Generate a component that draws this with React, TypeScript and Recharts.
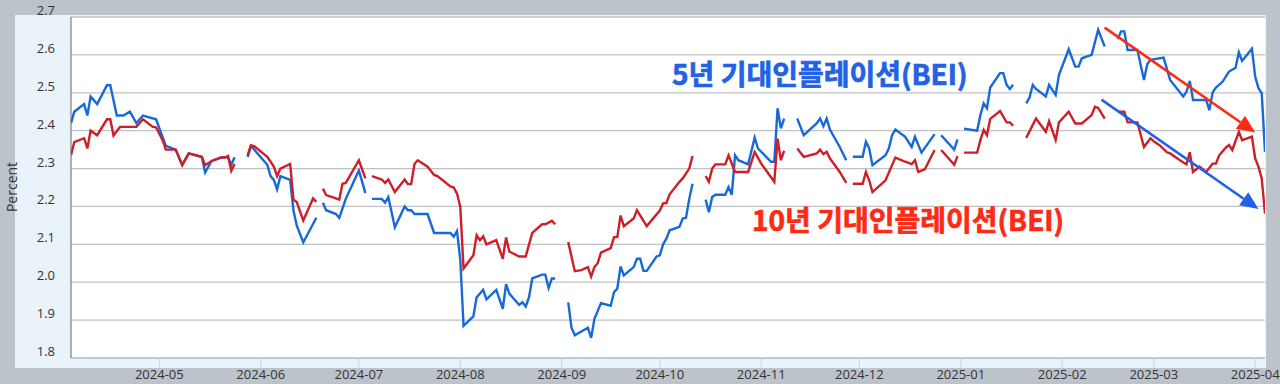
import { LineChart, Line, XAxis, YAxis, CartesianGrid, ReferenceLine } from 'recharts';

// 5-year breakeven inflation (T5YIE); null = market holiday gap
const fiveYearDates = [
  '2024-04-04', '2024-04-05', '2024-04-08', '2024-04-09', '2024-04-10', '2024-04-12', '2024-04-15', '2024-04-16',
  '2024-04-18', '2024-04-20', '2024-04-22', '2024-04-24', '2024-04-26', '2024-04-30', '2024-05-03', '2024-05-06',
  '2024-05-08', '2024-05-10', '2024-05-14', '2024-05-15', '2024-05-17', '2024-05-20', '2024-05-21', '2024-05-22',
  '2024-05-23', '2024-05-24', '2024-05-27', '2024-05-28', '2024-05-29', '2024-06-03', '2024-06-04', '2024-06-05',
  '2024-06-06', '2024-06-07', '2024-06-10', '2024-06-11', '2024-06-12', '2024-06-14', '2024-06-18', '2024-06-19',
  '2024-06-20', '2024-06-21', '2024-06-24', '2024-06-25', '2024-06-27', '2024-07-01', '2024-07-03', '2024-07-04',
  '2024-07-05', '2024-07-08', '2024-07-09', '2024-07-10', '2024-07-12', '2024-07-15', '2024-07-16', '2024-07-17',
  '2024-07-18', '2024-07-22', '2024-07-24', '2024-07-29', '2024-07-30', '2024-07-31', '2024-08-01', '2024-08-02',
  '2024-08-05', '2024-08-06', '2024-08-08', '2024-08-09', '2024-08-12', '2024-08-14', '2024-08-15', '2024-08-16',
  '2024-08-19', '2024-08-20', '2024-08-21', '2024-08-22', '2024-08-23', '2024-08-26', '2024-08-27', '2024-08-28',
  '2024-08-29', '2024-08-30', '2024-09-02', '2024-09-03', '2024-09-04', '2024-09-05', '2024-09-09', '2024-09-10',
  '2024-09-11', '2024-09-13', '2024-09-16', '2024-09-17', '2024-09-18', '2024-09-19', '2024-09-20', '2024-09-23',
  '2024-09-24', '2024-09-25', '2024-09-26', '2024-09-27', '2024-09-30', '2024-10-01', '2024-10-02', '2024-10-03',
  '2024-10-04', '2024-10-07', '2024-10-08', '2024-10-09', '2024-10-10', '2024-10-11', '2024-10-14', '2024-10-15',
  '2024-10-16', '2024-10-17', '2024-10-18', '2024-10-21', '2024-10-22', '2024-10-23', '2024-10-24', '2024-10-25',
  '2024-10-28', '2024-10-30', '2024-10-31', '2024-11-04', '2024-11-05', '2024-11-06', '2024-11-07', '2024-11-08',
  '2024-11-11', '2024-11-12', '2024-11-13', '2024-11-14', '2024-11-18', '2024-11-19', '2024-11-20', '2024-11-21',
  '2024-11-22', '2024-11-25', '2024-11-27', '2024-11-28', '2024-11-29', '2024-12-02', '2024-12-03', '2024-12-04',
  '2024-12-05', '2024-12-09', '2024-12-10', '2024-12-11', '2024-12-12', '2024-12-15', '2024-12-17', '2024-12-18',
  '2024-12-20', '2024-12-24', '2024-12-25', '2024-12-26', '2024-12-30', '2024-12-31', '2025-01-01', '2025-01-02',
  '2025-01-06', '2025-01-07', '2025-01-08', '2025-01-09', '2025-01-10', '2025-01-13', '2025-01-14', '2025-01-15',
  '2025-01-16', '2025-01-17', '2025-01-20', '2025-01-21', '2025-01-22', '2025-01-23', '2025-01-24', '2025-01-27',
  '2025-01-28', '2025-01-30', '2025-01-31', '2025-02-03', '2025-02-05', '2025-02-06', '2025-02-07', '2025-02-10',
  '2025-02-12', '2025-02-14', '2025-02-17', '2025-02-18', '2025-02-19', '2025-02-20', '2025-02-21', '2025-02-24',
  '2025-02-26', '2025-02-27', '2025-02-28', '2025-03-04', '2025-03-06', '2025-03-10', '2025-03-11', '2025-03-12',
  '2025-03-13', '2025-03-17', '2025-03-18', '2025-03-19', '2025-03-20', '2025-03-22', '2025-03-24', '2025-03-26',
  '2025-03-27', '2025-03-28', '2025-03-31', '2025-04-01', '2025-04-02', '2025-04-03', '2025-04-04',
];
const fiveYearValues = [
  2.42, 2.45, 2.47, 2.44, 2.49, 2.47, 2.52, 2.52,
  2.44, 2.44, 2.45, 2.42, 2.44, 2.43, 2.36, 2.35,
  2.31, 2.34, 2.33, 2.29, 2.32, 2.33, 2.33, 2.33,
  2.31, 2.33, null, 2.33, 2.36, 2.31, 2.28, 2.27,
  2.245, 2.28, 2.27, 2.19, 2.15, 2.105, 2.17, null,
  2.21, 2.19, 2.18, 2.17, 2.22, 2.295, 2.235, null,
  2.22, 2.22, 2.21, 2.225, 2.145, 2.2, 2.19, 2.19,
  2.18, 2.18, 2.13, 2.13, 2.12, 2.135, 2.06, 1.885,
  1.91, 1.96, 1.98, 1.955, 1.98, 1.93, 1.995, 1.97,
  1.94, 1.947, 1.936, 1.96, 2.01, 2.02, 2.02, 1.985,
  2.01, 2.01, null, 1.947, 1.88, 1.86, 1.88, 1.853,
  1.903, 1.945, 1.938, 1.974, 1.983, 2.042, 2.018, 2.04,
  2.062, 2.062, 2.03, 2.03, 2.068, 2.071, 2.1, 2.115,
  2.137, 2.146, 2.168, 2.17, 2.22, 2.26, null, 2.218,
  2.185, 2.225, 2.231, 2.231, 2.251, 2.231, 2.335, 2.322,
  2.311, 2.382, 2.353, 2.318, 2.318, 2.459, 2.406, 2.432,
  null, 2.432, 2.41, 2.388, 2.42, 2.432, 2.412, 2.432,
  2.403, 2.357, 2.322, null, 2.331, 2.331, 2.371, 2.353,
  2.309, 2.335, 2.353, 2.388, 2.403, 2.384, 2.357, 2.384,
  2.342, 2.391, null, 2.388, 2.35, 2.377, null, 2.405,
  2.4, 2.441, 2.472, 2.459, 2.514, 2.552, 2.552, 2.521,
  2.51, 2.521, null, 2.472, 2.487, 2.521, 2.51, 2.49,
  2.521, 2.494, 2.547, 2.615, 2.569, 2.569, 2.591, 2.6,
  2.666, 2.622, null, 2.642, 2.662, 2.662, 2.613, 2.613,
  2.534, 2.575, 2.587, 2.593, 2.534, 2.49, 2.503, 2.531,
  2.481, 2.481, 2.454, 2.501, 2.514, 2.529, 2.556, 2.566,
  2.607, 2.584, 2.616, 2.543, 2.512, 2.499, 2.344,
];

// 10-year breakeven inflation (T10YIE)
const tenYearDates = [
  '2024-04-04', '2024-04-05', '2024-04-08', '2024-04-09', '2024-04-10', '2024-04-12', '2024-04-15', '2024-04-16',
  '2024-04-17', '2024-04-19', '2024-04-24', '2024-04-26', '2024-04-29', '2024-04-30', '2024-05-02', '2024-05-03',
  '2024-05-06', '2024-05-08', '2024-05-10', '2024-05-14', '2024-05-15', '2024-05-17', '2024-05-20', '2024-05-21',
  '2024-05-22', '2024-05-23', '2024-05-24', '2024-05-27', '2024-05-28', '2024-05-29', '2024-05-30', '2024-06-03',
  '2024-06-05', '2024-06-06', '2024-06-07', '2024-06-10', '2024-06-11', '2024-06-12', '2024-06-14', '2024-06-17',
  '2024-06-18', '2024-06-19', '2024-06-20', '2024-06-21', '2024-06-24', '2024-06-25', '2024-06-26', '2024-06-27',
  '2024-07-01', '2024-07-03', '2024-07-04', '2024-07-05', '2024-07-08', '2024-07-09', '2024-07-10', '2024-07-12',
  '2024-07-15', '2024-07-16', '2024-07-17', '2024-07-18', '2024-07-19', '2024-07-22', '2024-07-24', '2024-07-25',
  '2024-07-29', '2024-07-30', '2024-07-31', '2024-08-01', '2024-08-02', '2024-08-05', '2024-08-06', '2024-08-07',
  '2024-08-08', '2024-08-09', '2024-08-12', '2024-08-14', '2024-08-15', '2024-08-16', '2024-08-19', '2024-08-21',
  '2024-08-23', '2024-08-26', '2024-08-27', '2024-08-29', '2024-08-30', '2024-09-02', '2024-09-03', '2024-09-05',
  '2024-09-07', '2024-09-09', '2024-09-10', '2024-09-11', '2024-09-12', '2024-09-13', '2024-09-16', '2024-09-17',
  '2024-09-18', '2024-09-19', '2024-09-20', '2024-09-23', '2024-09-24', '2024-09-27', '2024-10-01', '2024-10-02',
  '2024-10-03', '2024-10-04', '2024-10-07', '2024-10-08', '2024-10-10', '2024-10-11', '2024-10-14', '2024-10-15',
  '2024-10-16', '2024-10-17', '2024-10-18', '2024-10-21', '2024-10-22', '2024-10-23', '2024-10-24', '2024-10-28',
  '2024-10-30', '2024-11-01', '2024-11-05', '2024-11-06', '2024-11-07', '2024-11-08', '2024-11-11', '2024-11-12',
  '2024-11-14', '2024-11-18', '2024-11-19', '2024-11-20', '2024-11-21', '2024-11-22', '2024-11-25', '2024-11-27',
  '2024-11-28', '2024-11-29', '2024-12-02', '2024-12-03', '2024-12-04', '2024-12-05', '2024-12-09', '2024-12-11',
  '2024-12-12', '2024-12-15', '2024-12-17', '2024-12-18', '2024-12-19', '2024-12-21', '2024-12-24', '2024-12-25',
  '2024-12-26', '2024-12-30', '2024-12-31', '2025-01-01', '2025-01-02', '2025-01-06', '2025-01-07', '2025-01-08',
  '2025-01-09', '2025-01-10', '2025-01-13', '2025-01-15', '2025-01-16', '2025-01-17', '2025-01-20', '2025-01-21',
  '2025-01-24', '2025-01-27', '2025-01-28', '2025-01-30', '2025-01-31', '2025-02-03', '2025-02-05', '2025-02-07',
  '2025-02-10', '2025-02-11', '2025-02-12', '2025-02-14', '2025-02-17', '2025-02-18', '2025-02-20', '2025-02-21',
  '2025-02-24', '2025-02-26', '2025-02-28', '2025-03-01', '2025-03-03', '2025-03-05', '2025-03-06', '2025-03-09',
  '2025-03-11', '2025-03-12', '2025-03-13', '2025-03-15', '2025-03-17', '2025-03-19', '2025-03-20', '2025-03-21',
  '2025-03-23', '2025-03-24', '2025-03-25', '2025-03-27', '2025-03-28', '2025-03-31', '2025-04-01', '2025-04-02',
  '2025-04-03', '2025-04-04',
];
const tenYearValues = [
  2.335, 2.37, 2.38, 2.353, 2.4, 2.388, 2.43, 2.43,
  2.387, 2.41, 2.41, 2.43, 2.41, 2.409, 2.375, 2.35,
  2.35, 2.309, 2.34, 2.331, 2.309, 2.32, 2.329, 2.329,
  2.333, 2.294, 2.312, null, 2.335, 2.361, 2.359, 2.331,
  2.305, 2.28, 2.3, 2.312, 2.218, 2.212, 2.163, 2.221,
  2.212, null, 2.247, 2.23, 2.221, 2.218, 2.26, 2.262,
  2.322, 2.274, null, 2.28, 2.271, 2.262, 2.271, 2.238,
  2.271, 2.259, 2.259, 2.312, 2.322, 2.305, 2.283, 2.28,
  2.253, 2.25, 2.234, 2.199, 2.036, 2.071, 2.124, 2.111,
  2.121, 2.1, 2.111, 2.062, 2.118, 2.081, 2.068, 2.068,
  2.13, 2.153, 2.153, 2.162, 2.153, null, 2.106, 2.029,
  2.032, 2.04, 2.015, 2.04, 2.05, 2.078, 2.09, 2.119,
  2.119, 2.176, 2.148, 2.168, 2.19, 2.148, 2.189, 2.208,
  2.209, 2.232, 2.265, 2.274, 2.3, 2.333, null, 2.28,
  2.265, 2.3, 2.311, 2.311, 2.335, 2.313, 2.291, 2.291,
  2.344, 2.313, 2.265, 2.379, 2.322, 2.347, null, 2.353,
  2.331, 2.34, 2.35, 2.338, 2.344, 2.327, 2.291, 2.262,
  null, 2.26, 2.26, 2.291, 2.269, 2.238, 2.269, 2.309,
  2.329, 2.318, 2.312, 2.322, 2.291, 2.298, 2.349, null,
  2.349, 2.31, 2.333, null, 2.342, 2.342, 2.375, 2.402,
  2.388, 2.431, 2.452, 2.422, 2.422, 2.413, null, 2.381,
  2.432, 2.397, 2.425, 2.375, 2.422, 2.45, 2.419, 2.419,
  2.441, 2.463, 2.46, 2.432, null, 2.45, 2.45, 2.422,
  2.422, 2.357, 2.38, 2.372, 2.36, 2.343, 2.34, 2.322,
  2.311, 2.343, 2.291, 2.305, 2.291, 2.313, 2.313, 2.335,
  2.355, 2.362, 2.349, 2.397, 2.375, 2.384, 2.327, 2.305,
  2.274, 2.181,
];

const xStart = '2024-04-04';
const xEnd = '2025-04-04';
const monthTicks = [
  '2024-05-01', '2024-06-01', '2024-07-01', '2024-08-01', '2024-09-01', '2024-10-01',
  '2024-11-01', '2024-12-01', '2025-01-01', '2025-02-01', '2025-03-01', '2025-04-01',
];
const yTicks = [1.8, 1.9, 2.0, 2.1, 2.2, 2.3, 2.4, 2.5, 2.6, 2.7];

// trend arrows drawn over the chart: [start date, start value, end date, end value]
const redArrow = ['2025-02-14', 2.672, '2025-04-01', 2.395] as const;
const blueArrow = ['2025-02-13', 2.482, '2025-04-02', 2.193] as const;

const fiveYearLabel = '5년 기대인플레이션(BEI)';
const tenYearLabel = '10년 기대인플레이션(BEI)';

const BLUE_LINE = '#1769d9';
const RED_LINE = '#cc1f28';
const BLUE_TEXT = '#2361e6';
const RED_TEXT = '#ff2a14';
const FONT = "'Open Sans', 'Noto Sans', sans-serif";
const LABEL_FONT = "'Noto Sans CJK KR', sans-serif";

const toPoints = (dates: string[], values: (number | null)[]) =>
  dates.map((d, i) => ({ t: Date.parse(d), v: values[i] }));

const fiveYearData = toPoints(fiveYearDates, fiveYearValues);
const tenYearData = toPoints(tenYearDates, tenYearValues);

const fmtMonth = (t: number) => new Date(t).toISOString().slice(0, 7);

function YTick(props: any) {
  const { x, y, payload } = props;
  return (
    <text x={x} y={y - 2} textAnchor="end" fill="#333" fontSize={13} fontFamily={FONT}>
      {Number(payload.value).toFixed(1)}
    </text>
  );
}

function arrowShape(color: string) {
  return (props: any) => {
    const { x1, y1, x2, y2 } = props;
    const dx = x2 - x1;
    const dy = y2 - y1;
    const len = Math.hypot(dx, dy) || 1;
    const ux = dx / len;
    const uy = dy / len;
    const head = 18;
    const half = 8;
    const bx = x2 - ux * head;
    const by = y2 - uy * head;
    return (
      <g>
        <line x1={x1} y1={y1} x2={bx} y2={by} stroke={color} strokeWidth={2.6} />
        <polygon
          points={`${x2},${y2} ${bx - uy * half},${by + ux * half} ${bx + uy * half},${by - ux * half}`}
          fill={color}
        />
      </g>
    );
  };
}

export default function App() {
  return (
    <div style={{ position: 'absolute', left: 0, top: 0, width: 1280, height: 384, background: '#bcc3ca', overflow: 'hidden' }}>
      <div style={{ position: 'absolute', left: 15, top: 15, width: 1251, height: 353, background: '#eaf2fa' }} />
      <div style={{ position: 'absolute', left: 0, top: 0 }}>
        <LineChart width={1280} height={384} margin={{ top: 17, right: 15, bottom: 0, left: 0 }}>
          <CartesianGrid vertical={false} stroke="#c2c2c2" strokeWidth={1.3} fill="#ffffff" />
          <XAxis
            dataKey="t"
            type="number"
            scale="time"
            domain={[Date.parse(xStart), Date.parse(xEnd)]}
            ticks={monthTicks.map((d) => Date.parse(d))}
            tickFormatter={fmtMonth}
            allowDataOverflow
            height={26}
            tickSize={10}
            tickLine={{ stroke: '#c8d6e6' }}
            axisLine={{ stroke: '#b9c9dd', strokeWidth: 1.5 }}
            tick={{ fill: '#333', fontSize: 13, fontFamily: FONT }}
          />
          <YAxis
            type="number"
            domain={[1.8, 2.7]}
            ticks={yTicks}
            width={71}
            tickLine={false}
            tickSize={6}
            tickMargin={10}
            axisLine={{ stroke: '#666' }}
            tick={<YTick />}
          />
          <Line
            data={fiveYearData}
            dataKey="v"
            type="linear"
            stroke={BLUE_LINE}
            strokeWidth={2.4}
            dot={false}
            activeDot={false}
            isAnimationActive={false}
          />
          <Line
            data={tenYearData}
            dataKey="v"
            type="linear"
            stroke={RED_LINE}
            strokeWidth={2.4}
            dot={false}
            activeDot={false}
            isAnimationActive={false}
          />
          <ReferenceLine
            segment={[
              { x: Date.parse(redArrow[0]), y: redArrow[1] },
              { x: Date.parse(redArrow[2]), y: redArrow[3] },
            ]}
            shape={arrowShape(RED_TEXT)}
            ifOverflow="visible"
          />
          <ReferenceLine
            segment={[
              { x: Date.parse(blueArrow[0]), y: blueArrow[1] },
              { x: Date.parse(blueArrow[2]), y: blueArrow[3] },
            ]}
            shape={arrowShape(BLUE_TEXT)}
            ifOverflow="visible"
          />
        </LineChart>
      </div>
      <svg width={1280} height={384} style={{ position: 'absolute', left: 0, top: 0, pointerEvents: 'none' }}>
        <text
          transform="translate(16.5,187) rotate(-90)"
          textAnchor="middle"
          fill="#333"
          fontSize={14}
          fontFamily={FONT}
        >
          Percent
        </text>
        <text
          x={672}
          y={85}
          fill={BLUE_TEXT}
          stroke={BLUE_TEXT}
          strokeWidth={0.7}
          fontSize={28}
          fontWeight={700}
          fontFamily={LABEL_FONT}
        >
          {fiveYearLabel}
        </text>
        <text
          x={752}
          y={231}
          fill={RED_TEXT}
          stroke={RED_TEXT}
          strokeWidth={0.7}
          fontSize={28}
          fontWeight={700}
          fontFamily={LABEL_FONT}
        >
          {tenYearLabel}
        </text>
      </svg>
    </div>
  );
}
